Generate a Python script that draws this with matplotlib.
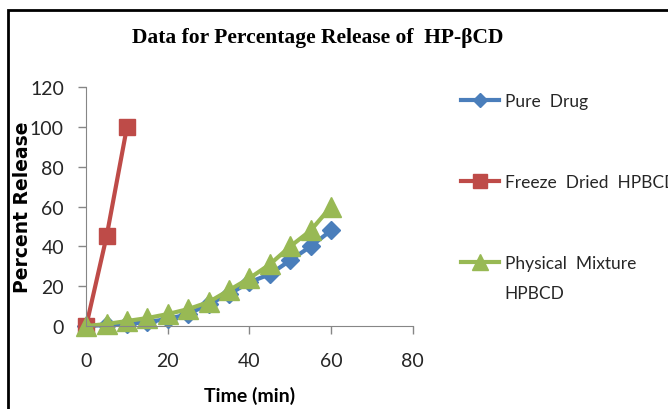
import matplotlib
matplotlib.use('Agg')
import matplotlib.pyplot as plt
from matplotlib.patches import Rectangle

# data
time_min = [0, 5, 10, 15, 20, 25, 30, 35, 40, 45, 50, 55, 60]
pure_drug = [0, 0.5, 1, 2, 3.5, 6, 11, 16, 22, 26, 33, 40, 48]
physical_mix = [0, 1, 2.5, 4, 6, 8.5, 12, 18, 24, 31, 40, 48, 60]
freeze_time = [0, 5, 10]
freeze_dried = [0, 45, 100]

labels = ['Pure  Drug', 'Freeze  Dried  HPBCD', 'Physical  Mixture']
colors = ['#4a7ebb', '#be4b48', '#98b954']

sans = ['Lato', 'DejaVu Sans']

fig = plt.figure(figsize=(6.68, 4.10), dpi=100)
ax = fig.add_axes([0.129, 0.2024, 0.489, 0.583])

ax.plot(time_min, pure_drug, color=colors[0], marker='D', markersize=9, lw=3, label=labels[0])
ax.plot(freeze_time, freeze_dried, color=colors[1], marker='s', markersize=12, lw=3, label=labels[1])
ax.plot(time_min, physical_mix, color=colors[2], marker='^', markersize=14, lw=3, label=labels[2])

ax.set_xlim(0, 80)
ax.set_ylim(0, 120)
ax.set_xticks(range(0, 81, 20))
ax.set_yticks(range(0, 121, 20))
ax.spines['top'].set_visible(False)
ax.spines['right'].set_visible(False)
for s in ['left', 'bottom']:
    ax.spines[s].set_color('#868686')
ax.tick_params(colors='#868686', labelcolor='#262626', length=6, width=1)
ax.tick_params(axis='x', pad=13)
ax.tick_params(axis='y', pad=10)
for lab in ax.get_xticklabels() + ax.get_yticklabels():
    lab.set_family(sans)
    lab.set_fontsize(14)
for line in ax.lines:
    line.set_clip_on(False)

ax.set_xlabel('Time (min)', family=sans, fontsize=14, fontweight='bold')
ax.xaxis.set_label_coords(0.5, -0.25)
ax.set_ylabel('Percent Release', family='DejaVu Sans', fontsize=13.5, fontweight='bold')
ax.yaxis.set_label_coords(-0.165, 0.5)

fig.text(0.476, 0.908, 'Data for Percentage Release of  HP-\u03b2CD', family='Liberation Serif',
         fontsize=15.5, fontweight='bold', ha='center', va='center')

leg = ax.legend(loc='upper left', bbox_to_anchor=(1.1, 1.04), frameon=False,
                handlelength=2.2, handletextpad=0.3, labelspacing=3.75,
                prop={'family': sans, 'size': 12.5}, markerscale=0.8)
for t in leg.get_texts():
    t.set_color('#262626')
# second line of the last legend label (drawn after the legend)
ax.annotate('HPBCD', xy=(0, 0), xycoords=leg.get_texts()[2], xytext=(0, -10),
            textcoords='offset points', va='top', ha='left', zorder=10,
            family=sans, fontsize=12.5, color='#262626')

# figure border (cut at right/bottom)
fig.patches.append(Rectangle((8 / 668, -0.1), 1.2, (410 - 11) / 410 + 0.1,
                             transform=fig.transFigure, fill=False, edgecolor='black', lw=2))

fig.savefig('out.png', dpi=100)
